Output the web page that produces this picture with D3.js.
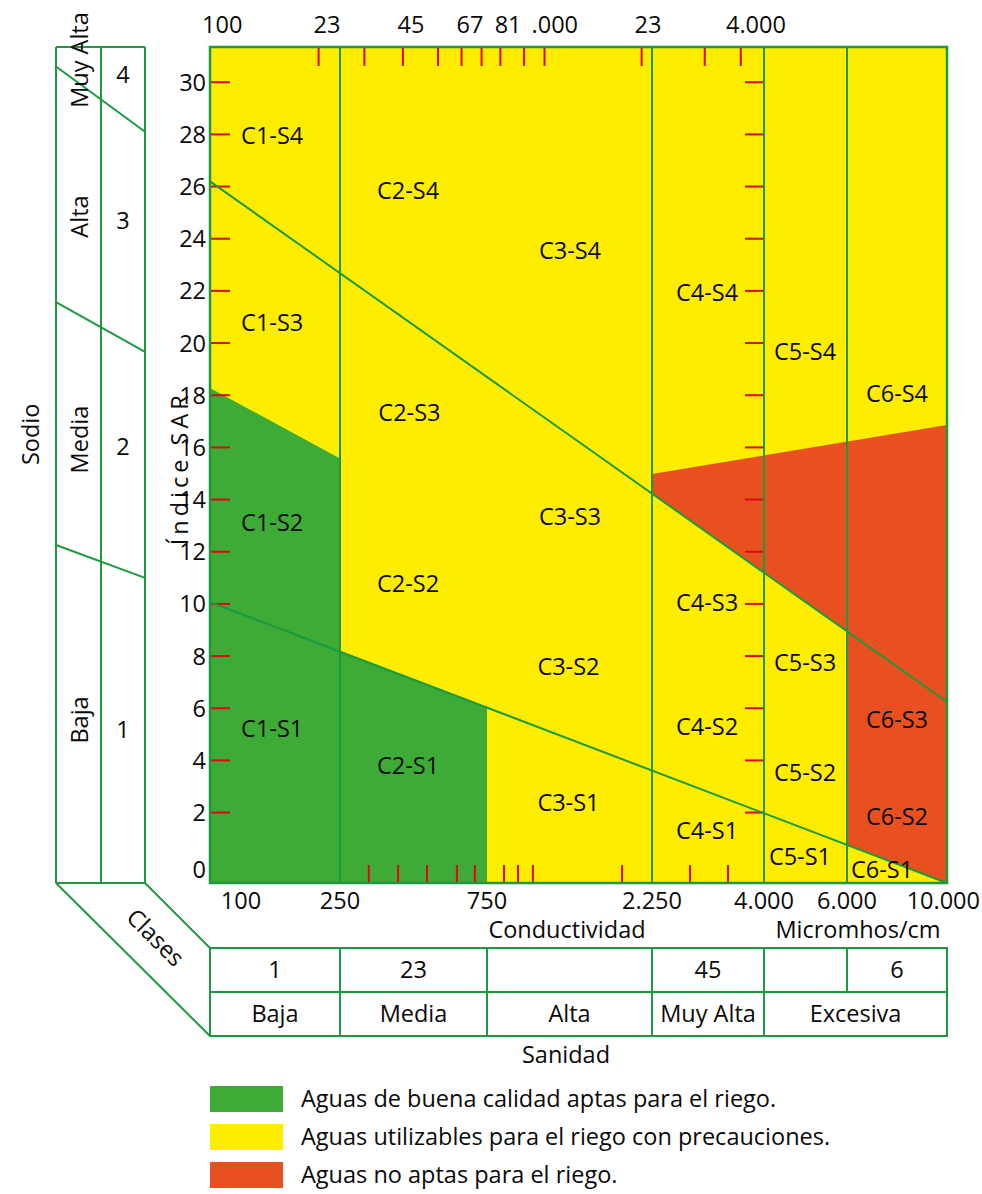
<!DOCTYPE html>
<html>
<head>
<meta charset="utf-8">
<script src="https://cdn.jsdelivr.net/npm/d3@7"></script>
<style>
  html, body { margin: 0; padding: 0; background: #fff; }
  svg { display: block; }
  text { font-family: "Open Sans", "Noto Sans", sans-serif; fill: #0a0a0a; }
</style>
</head>
<body>
<svg id="chart" width="982" height="1194"></svg>
<script>
// ---------------- DATA ----------------
const condBreaks = [100, 250, 750, 2250, 4000, 6000, 10000];
const condLabels = ["100", "250", "750", "2.250", "4.000", "6.000", "10.000"];
const topLabels = ["100", "23", "45", "67", "81", ".000", "23", "4.000"];
const topLabelValues = [109, 228, 425, 660, 863, 1178, 2191, 3838];
const topTickValues = [215, 300, 400, 520, 620, 720, 820, 960, 1100, 2100, 2950, 3550];
const bottomTickValues = [310, 386, 479, 599, 685, 840, 922, 1018, 1843, 2736, 3325];
const sarLabels = [0, 2, 4, 6, 8, 10, 12, 14, 16, 18, 20, 22, 24, 26, 28, 30];
const sarTickValues = [2, 4, 6, 8, 10, 12, 14, 16, 18, 20, 22, 24, 26, 28, 30];
const sarExtent = [-0.7, 31.35];
const dividerValues = [250, 2250, 4000, 6000];

// class boundary lines [conductivity, SAR]
const lineS3S4 = [[100, 26.2], [10000, 6.24]];
const lineS1S2 = [[100, 10.07], [10000, -0.7]];
const greenTop = [[100, 18.28], [250, 15.57]];
const orangeTop = [[2250, 14.98], [10000, 16.86]];

// region labels
const regionNames = ["C1-S4","C2-S4","C3-S4","C4-S4","C5-S4","C6-S4",
                     "C1-S3","C2-S3","C3-S3","C4-S3","C5-S3","C6-S3",
                     "C1-S2","C2-S2","C3-S2","C4-S2","C5-S2","C6-S2",
                     "C1-S1","C2-S1","C3-S1","C4-S1","C5-S1","C6-S1"];
const regionCond = [155, 416, 1303, 2986, 4889, 7746,
                    155, 420, 1303, 2986, 4889, 7746,
                    155, 416, 1290, 2986, 4889, 7746,
                    155, 416, 1290, 2986, 4768, 7178];
const regionSar = [27.97, 25.86, 23.56, 21.92, 19.66, 18.08,
                   20.80, 17.32, 13.33, 10.04, 7.74, 5.56,
                   13.10, 10.77, 7.59, 5.29, 3.52, 1.84,
                   5.21, 3.79, 2.38, 1.30, 0.31, -0.19];

// sodium class panel
const sodiumNames = ["Muy Alta", "Alta", "Media", "Baja"];
const sodiumNameSar = [30.85, 24.85, 16.3, 5.55];
const sodiumNums = ["4", "3", "2", "1"];
const sodiumNumSar = [30.3, 24.7, 16.05, 5.2];
const sodiumBounds = [[30.6, 28.1], [21.57, 19.66], [12.26, 11.0]];

// salinity table
const salinityNums = ["1", "23", "", "45", "", "6"];
const salinityNumFrom = [100, 250, 750, 2250, 4000, 6000];
const salinityNumTo = [250, 750, 2250, 4000, 6000, 10000];
const salinityNames = ["Baja", "Media", "Alta", "Muy Alta", "Excesiva"];
const salinityNameFrom = [100, 250, 750, 2250, 4000];
const salinityNameTo = [250, 750, 2250, 4000, 10000];

// legend
const legendColors = ["#3dab35", "#ffed00", "#e8511f"];
const legendTexts = ["Aguas de buena calidad aptas para el riego.",
                     "Aguas utilizables para el riego con precauciones.",
                     "Aguas no aptas para el riego."];

// ---------------- STYLE / LAYOUT ----------------
const GREEN_LINE = "#1b9a3f";
const RED = "#e30613";
const FS = 23.5;
const svg = d3.select("#chart");

const x = d3.scaleLog().domain(condBreaks).range([210, 340, 487, 652, 764, 847, 947]);
const y = d3.scaleLinear().domain(sarExtent).range([883, 47]);
const plotL = x(100), plotR = x(10000), plotT = y(sarExtent[1]), plotB = y(sarExtent[0]);

function lineY(line, c) {
  const x0 = x(line[0][0]), y0 = y(line[0][1]), x1 = x(line[1][0]), y1 = y(line[1][1]);
  return y0 + (y1 - y0) * (x(c) - x0) / (x1 - x0);
}

// background yellow
svg.append("rect").attr("x", plotL).attr("y", plotT)
  .attr("width", plotR - plotL).attr("height", plotB - plotT).attr("fill", legendColors[1]);

// green area
const greenPts = [
  [x(100), y(greenTop[0][1])], [x(250), y(greenTop[1][1])],
  [x(250), lineY(lineS1S2, 250)], [x(750), lineY(lineS1S2, 750)],
  [x(750), plotB], [x(100), plotB]
];
svg.append("path").attr("d", d3.line()(greenPts) + "Z").attr("fill", legendColors[0]);

// orange area
const orangePts = [
  [x(2250), y(orangeTop[0][1])], [x(10000), y(orangeTop[1][1])],
  [x(10000), lineY(lineS1S2, 10000)], [x(6000), lineY(lineS1S2, 6000)],
  [x(6000), lineY(lineS3S4, 6000)], [x(2250), lineY(lineS3S4, 2250)]
];
svg.append("path").attr("d", d3.line()(orangePts) + "Z").attr("fill", legendColors[2]);

// red ticks
const tg = svg.append("g").attr("stroke", RED).attr("stroke-width", 2);
tg.selectAll(".tt").data(topTickValues).join("line").attr("class", "tt")
  .attr("x1", d => x(d)).attr("x2", d => x(d)).attr("y1", plotT).attr("y2", plotT + 19);
tg.selectAll(".bt").data(bottomTickValues).join("line").attr("class", "bt")
  .attr("x1", d => x(d)).attr("x2", d => x(d)).attr("y1", plotB - 18).attr("y2", plotB);
tg.selectAll(".lt").data(sarTickValues).join("line").attr("class", "lt")
  .attr("x1", plotL).attr("x2", plotL + 20).attr("y1", d => y(d)).attr("y2", d => y(d));
tg.selectAll(".rt").data(sarTickValues).join("line").attr("class", "rt")
  .attr("x1", x(4000) - 19).attr("x2", x(4000)).attr("y1", d => y(d)).attr("y2", d => y(d));

// class lines
const lg = svg.append("g").attr("stroke", GREEN_LINE).attr("stroke-width", 2).attr("fill", "none");
[lineS3S4, lineS1S2].forEach(l => {
  lg.append("line").attr("x1", x(l[0][0])).attr("y1", y(l[0][1]))
    .attr("x2", x(l[1][0])).attr("y2", y(l[1][1]));
});
lg.selectAll(".dv").data(dividerValues).join("line").attr("class", "dv")
  .attr("x1", d => x(d)).attr("x2", d => x(d)).attr("y1", plotT).attr("y2", plotB);
lg.append("rect").attr("x", plotL).attr("y", plotT)
  .attr("width", plotR - plotL).attr("height", plotB - plotT).attr("stroke-width", 2.5);

// region labels
svg.append("g").selectAll("text").data(regionNames).join("text")
  .attr("x", (d, i) => x(regionCond[i]))
  .attr("y", (d, i) => y(regionSar[i]) + FS * 0.36)
  .attr("text-anchor", "middle").attr("font-size", FS).text(d => d);

// y axis labels
svg.append("g").selectAll("text").data(sarLabels).join("text")
  .attr("x", plotL - 4).attr("y", d => y(d) + FS * 0.36 + (d === 0 ? 5 : 0))
  .attr("text-anchor", "end").attr("font-size", FS).text(d => d);

// top labels
svg.append("g").selectAll("text").data(topLabels).join("text")
  .attr("x", (d, i) => x(topLabelValues[i])).attr("y", 33)
  .attr("text-anchor", "middle").attr("font-size", FS).text(d => d);

// bottom labels
const nB = condLabels.length;
svg.append("g").selectAll("text").data(condLabels).join("text")
  .attr("x", (d, i) => x(condBreaks[i]) + (i === 0 ? 31 : (i === nB - 1 ? 33 : 0)))
  .attr("y", plotB + 26)
  .attr("text-anchor", (d, i) => i === nB - 1 ? "end" : "middle")
  .attr("font-size", FS).text(d => d);

svg.append("text").attr("x", 567).attr("y", plotB + 55).attr("text-anchor", "middle")
  .attr("font-size", FS).text("Conductividad");
svg.append("text").attr("x", 858).attr("y", plotB + 55).attr("text-anchor", "middle")
  .attr("font-size", FS).text("Micromhos/cm");

// axis titles
svg.append("text").attr("transform", `translate(${plotL - 31},${y(15.2)}) rotate(-90)`)
  .attr("text-anchor", "middle").attr("dominant-baseline", "central")
  .attr("letter-spacing", 4)
  .attr("font-size", FS).text("Índice SAR");
svg.append("text").attr("transform", `translate(30,${y(16.5)}) rotate(-90)`)
  .attr("text-anchor", "middle").attr("dominant-baseline", "central")
  .attr("font-size", FS).text("Sodio");

// sodium panel
const pL = 56, pM = 101, pR = 145;
const pg = svg.append("g").attr("stroke", GREEN_LINE).attr("stroke-width", 2).attr("fill", "none");
[pL, pM, pR].forEach(px => pg.append("line").attr("x1", px).attr("x2", px).attr("y1", plotT).attr("y2", plotB));
pg.append("line").attr("x1", pL).attr("x2", pR).attr("y1", plotT).attr("y2", plotT);
pg.append("line").attr("x1", pL).attr("x2", pR).attr("y1", plotB).attr("y2", plotB);
pg.selectAll(".sb").data(sodiumBounds).join("line").attr("class", "sb")
  .attr("x1", pL).attr("x2", pR).attr("y1", d => y(d[0])).attr("y2", d => y(d[1]));
pg.append("line").attr("x1", pR).attr("y1", plotB).attr("x2", plotL).attr("y2", 948);
pg.append("line").attr("x1", pL).attr("y1", plotB).attr("x2", plotL).attr("y2", 1036);

svg.append("g").selectAll("text").data(sodiumNames).join("text")
  .attr("transform", (d, i) => `translate(79,${y(sodiumNameSar[i])}) rotate(-90)`)
  .attr("text-anchor", "middle").attr("dominant-baseline", "central")
  .attr("font-size", FS).text(d => d);
svg.append("g").selectAll("text").data(sodiumNums).join("text")
  .attr("x", 123).attr("y", (d, i) => y(sodiumNumSar[i]) + FS * 0.36)
  .attr("text-anchor", "middle").attr("font-size", FS).text(d => d);

svg.append("text").attr("transform", "translate(156,937) rotate(45)")
  .attr("text-anchor", "middle").attr("dominant-baseline", "central")
  .attr("font-size", FS).text("Clases");

// salinity table
const r0 = 948, r1 = 992, r2 = 1036;
const tb = svg.append("g").attr("stroke", GREEN_LINE).attr("stroke-width", 2).attr("fill", "none");
tb.append("rect").attr("x", plotL).attr("y", r0).attr("width", plotR - plotL).attr("height", r2 - r0);
tb.append("line").attr("x1", plotL).attr("x2", plotR).attr("y1", r1).attr("y2", r1);
tb.selectAll(".c1").data(salinityNumFrom.slice(1)).join("line").attr("class", "c1")
  .attr("x1", d => x(d)).attr("x2", d => x(d)).attr("y1", r0).attr("y2", r1);
tb.selectAll(".c2").data(salinityNameFrom.slice(1)).join("line").attr("class", "c2")
  .attr("x1", d => x(d)).attr("x2", d => x(d)).attr("y1", r1).attr("y2", r2);

svg.append("g").selectAll("text").data(salinityNums).join("text")
  .attr("x", (d, i) => (x(salinityNumFrom[i]) + x(salinityNumTo[i])) / 2)
  .attr("y", (r0 + r1) / 2 + FS * 0.36)
  .attr("text-anchor", "middle").attr("font-size", FS).text(d => d);
svg.append("g").selectAll("text").data(salinityNames).join("text")
  .attr("x", (d, i) => (x(salinityNameFrom[i]) + x(salinityNameTo[i])) / 2)
  .attr("y", (r1 + r2) / 2 + FS * 0.36)
  .attr("text-anchor", "middle").attr("font-size", FS).text(d => d);
svg.append("text").attr("x", 566).attr("y", 1063).attr("text-anchor", "middle")
  .attr("font-size", FS).text("Sanidad");

// legend
const lgd = svg.append("g");
lgd.selectAll("rect").data(legendColors).join("rect")
  .attr("x", 210).attr("y", (d, i) => 1086 + i * 38).attr("width", 73).attr("height", 26)
  .attr("fill", d => d);
lgd.selectAll("text").data(legendTexts).join("text")
  .attr("x", 301).attr("y", (d, i) => 1099 + i * 38 + FS * 0.36)
  .attr("font-size", FS).text(d => d);
</script>
</body>
</html>
